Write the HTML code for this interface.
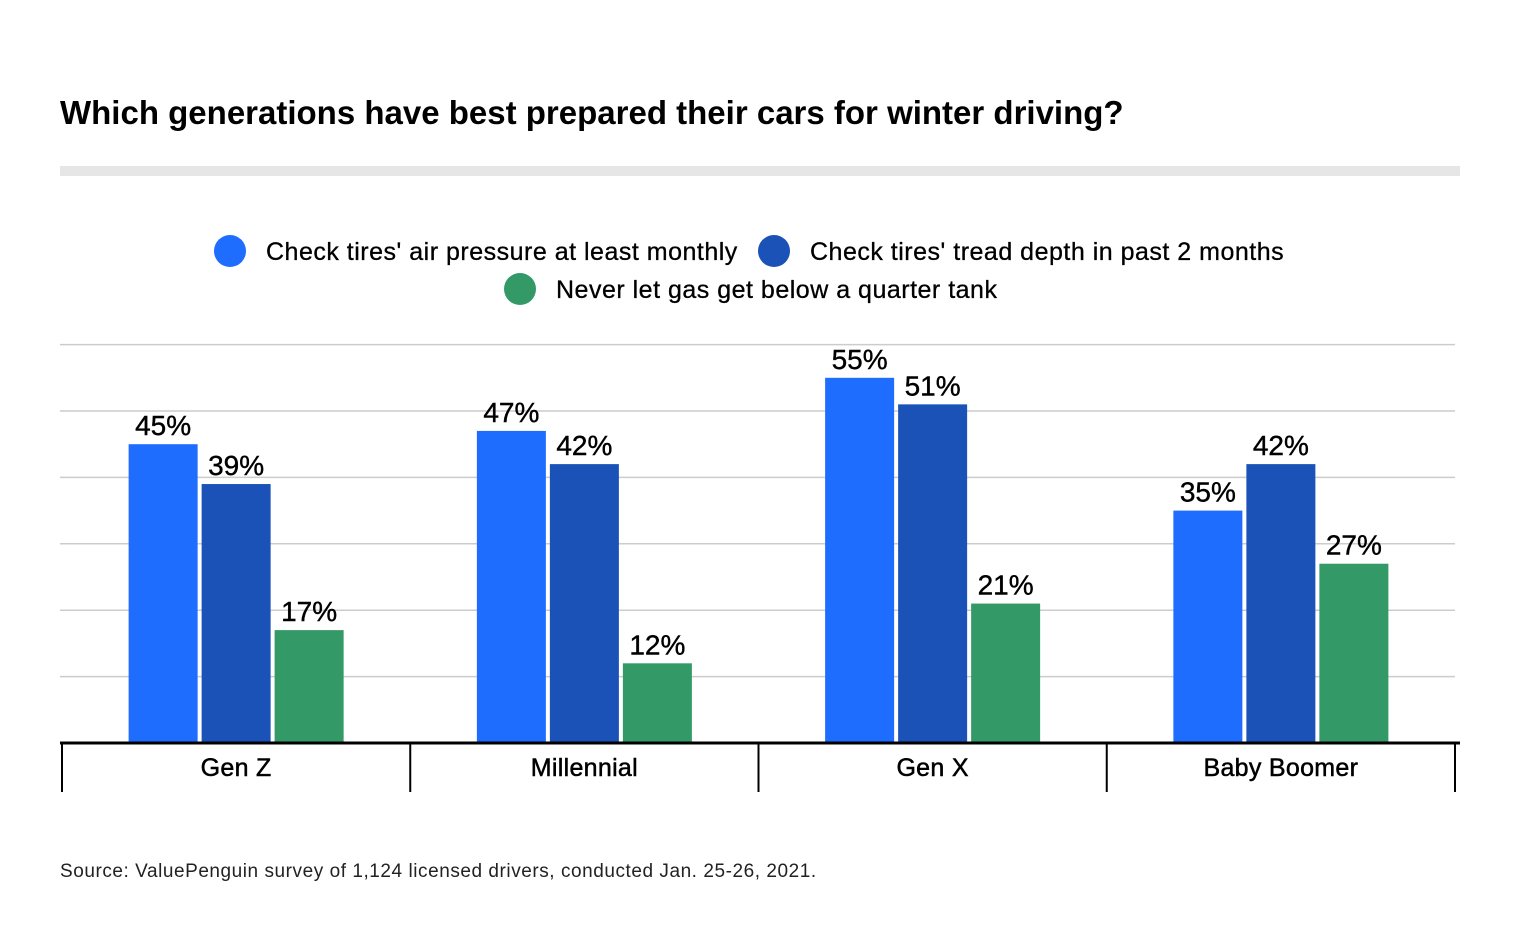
<!DOCTYPE html>
<html><head><meta charset="utf-8"><style>
body{margin:0;background:#fff;font-family:"Liberation Sans",sans-serif;}
#wrap{position:relative;width:1520px;height:952px;overflow:hidden;}
</style></head><body>
<div id="wrap">
<div style="position:absolute;left:60px;top:94px;font-size:33px;font-weight:bold;letter-spacing:0px;color:#000">Which generations have best prepared their cars for winter driving?</div>
<div style="position:absolute;left:60px;top:166px;width:1400px;height:10px;background:#e6e6e6"></div>
<svg id="chart" width="1520" height="952" style="position:absolute;left:0;top:0"></svg>
<div style="position:absolute;left:60px;top:861px;font-size:19px;letter-spacing:0.55px;color:#222">Source: ValuePenguin survey of 1,124 licensed drivers, conducted Jan. 25-26, 2021.</div>
</div>
<script>
const categories=["Gen Z","Millennial","Gen X","Baby Boomer"];
const seriesNames=["Check tires' air pressure at least monthly","Check tires' tread depth in past 2 months","Never let gas get below a quarter tank"];
const airPressure=[45,47,55,35];
const treadDepth=[39,42,51,42];
const gasQuarter=[17,12,21,27];
const gridTicks=[10,20,30,40,50,60];
const colors=["#1f6dff","#1a52b8","#339966"];
const series=[airPressure,treadDepth,gasQuarter];
const NS="http://www.w3.org/2000/svg";
const svg=document.getElementById('chart');
const x0=62,x1=1455,base=743,pxPer=6.64;
const band=(x1-x0)/categories.length;
const y=v=>base-v*pxPer;
function mk(t,a){const e=document.createElementNS(NS,t);for(const k in a)e.setAttribute(k,a[k]);svg.appendChild(e);return e;}
gridTicks.forEach(t=>{const l=mk('line',{x1:60,x2:1455,y1:y(t),y2:y(t),stroke:'#cccccc','stroke-width':1.5});

});
const bw=69,gap=4;
categories.forEach((c,i)=>{
 const cx=x0+band*i+band/2;const start=cx-(3*bw+2*gap)/2;
 series.forEach((s,j)=>{
  const bx=start+j*(bw+gap);
  const r=mk('rect',{x:bx,y:y(s[i]),width:bw,height:s[i]*pxPer,fill:colors[j]});
  
  
  const t=mk('text',{x:bx+bw/2,y:y(s[i])-9,'text-anchor':'middle','font-size':28,fill:'#000',stroke:'#000','stroke-width':0.4,'font-family':'Liberation Sans'});
  t.textContent=s[i]+'%';
  
  
 });
 const lab=mk('text',{x:cx,y:776,'text-anchor':'middle','font-size':25,fill:'#000',stroke:'#000','stroke-width':0.5,'letter-spacing':0.3,'font-family':'Liberation Sans'});
 lab.textContent=c;
 
 
});
for(let i=0;i<=categories.length;i++){const xx=x0+band*i;const l=mk('line',{x1:xx,x2:xx,y1:743,y2:792,stroke:'#000','stroke-width':2});

}
const ax=mk('line',{x1:60,x2:1460,y1:743,y2:743,stroke:'#000','stroke-width':3});


const legendPos=[[230,251],[774,251],[520,289]];
seriesNames.forEach((n,j)=>{
 const g=document.createElementNS(NS,'g');svg.appendChild(g);
 
 
 const ci=document.createElementNS(NS,'circle');ci.setAttribute('cx',legendPos[j][0]);ci.setAttribute('cy',legendPos[j][1]);ci.setAttribute('r',16);ci.setAttribute('fill',colors[j]);g.appendChild(ci);
 const t=document.createElementNS(NS,'text');t.setAttribute('x',legendPos[j][0]+36);t.setAttribute('y',legendPos[j][1]+9);t.setAttribute('font-size',25);t.setAttribute('letter-spacing',0.5);t.setAttribute('stroke','#000');t.setAttribute('stroke-width',0.3);t.setAttribute('font-family','Liberation Sans');t.textContent=n;g.appendChild(t);
});
</script>
</body></html>
